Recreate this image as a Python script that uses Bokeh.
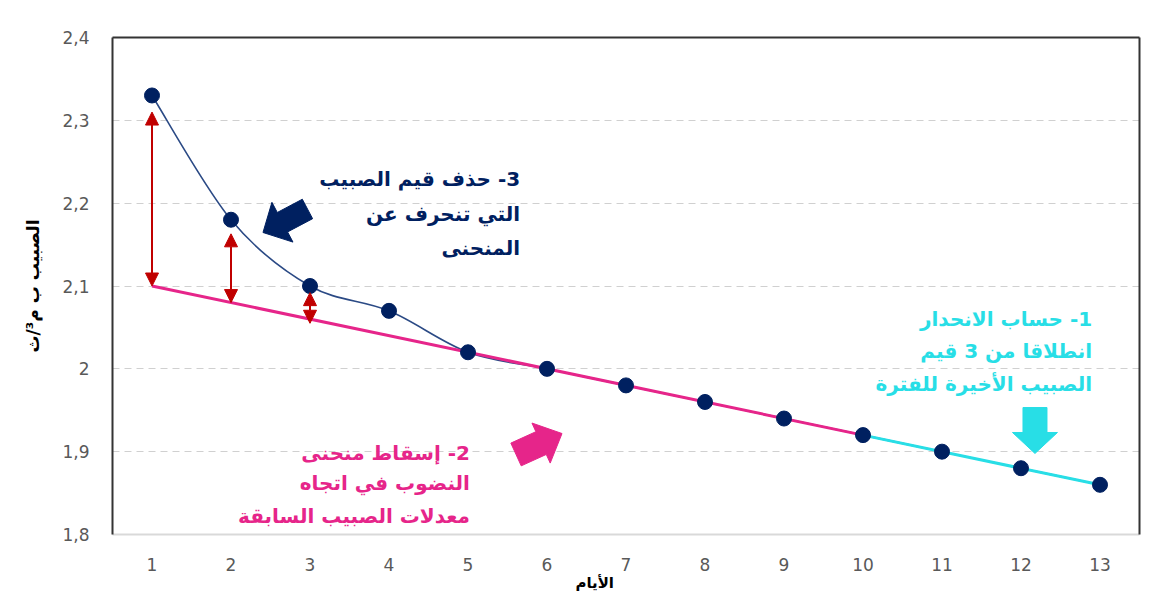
import math
from bokeh.plotting import figure
from bokeh.models import (FixedTicker, Arrow, NormalHead, ColumnDataSource,
                          LinearAxis, Range1d)
from bokeh.core.properties import value
from bokeh.embed import file_html
from bokeh.resources import INLINE

# ---------------- data ----------------
days = list(range(1, 14))
flow = [2.33, 2.18, 2.10, 2.07, 2.02, 2.00, 1.98, 1.96, 1.94, 1.92, 1.90, 1.88, 1.86]

recession_x = [1, 10]
recession_y = [2.10, 1.92]
regression_x = [10, 13]
regression_y = [1.92, 1.86]

dev_x = [1, 2, 3]
dev_low = [2.10, 2.08, 2.055]
dev_high = [2.31, 2.163, 2.092]

x_ticks = days
y_ticks = [1.8, 1.9, 2.0, 2.1, 2.2, 2.3, 2.4]
y_tick_labels = ["1,8", "1,9", "2", "2,1", "2,2", "2,3", "2,4"]
x_title = "الأيام"
y_title = "الصبيب ب م³/ث"

note3 = ["3- حذف قيم الصبيب", "التي تنحرف عن", "المنحنى"]
note2 = ["2- إسقاط منحنى", "النضوب في اتجاه", "معدلات الصبيب السابقة"]
note1 = ["1- حساب الانحدار", "انطلاقا من 3 قيم", "الصبيب الأخيرة للفترة"]

note3_x, note3_y = 5.66, [2.2297, 2.1874, 2.1464]
note2_x, note2_y = 5.025, [1.8988, 1.8626, 1.8227]
note1_x, note1_y = 12.9, [2.0606, 2.022, 1.982]

navy_arrow = ((2.968, 2.193), (2.405, 2.1646))
pink_arrow = ((5.608, 1.8966), (6.19, 1.9219))
cyan_arrow = ((12.177, 1.9533), (12.177, 1.8978))

NAVY = "#002060"
CURVE = "#2B4A85"
PINK = "#E6258A"
CYAN = "#28DEE6"
RED = "#C00000"
TICK = "#595959"
FONT = "DejaVu Sans"

X0, X1 = 0.5, 13.5
Y0, Y1 = 1.8, 2.4
W, H = 1142, 597
PAD_L, PAD_T, PAD_R, PAD_B = 112, 37, 3, 63
FW, FH = W - PAD_L - PAD_R, H - PAD_T - PAD_B
kx = FW / (X1 - X0)
ky = FH / (Y1 - Y0)

p = figure(width=W, height=H, output_backend="svg", toolbar_location=None,
           x_range=Range1d(X0, X1), y_range=Range1d(Y0, Y1),
           min_border_left=PAD_L, min_border_top=PAD_T,
           min_border_right=PAD_R, min_border_bottom=PAD_B)
p.outline_line_color = None
p.background_fill_color = "white"
p.border_fill_color = "white"

# grid
p.xgrid.visible = False
p.ygrid.ticker = FixedTicker(ticks=y_ticks)
p.ygrid.grid_line_color = "#D0D0D0"
p.ygrid.grid_line_dash = "7 5"
p.ygrid.grid_line_width = 1

# axes
p.xaxis.ticker = FixedTicker(ticks=x_ticks)
p.yaxis.ticker = FixedTicker(ticks=y_ticks)
p.yaxis.major_label_overrides = {t: l for t, l in zip(y_ticks, y_tick_labels)}
for ax in (p.xaxis[0], p.yaxis[0]):
    ax.major_tick_line_color = None
    ax.minor_tick_line_color = None
    ax.major_label_text_color = TICK
    ax.major_label_text_font = FONT
    ax.major_label_text_font_size = "17px"
    ax.axis_label_text_font = FONT
    ax.axis_label_text_font_style = "bold"
    ax.axis_label_text_color = "black"
p.xaxis.major_label_standoff = 17
p.yaxis.major_label_standoff = 17
p.xaxis.axis_line_color = "#D9D9D9"
p.xaxis.axis_line_width = 2
p.yaxis.axis_line_color = "#333333"
p.yaxis.axis_line_width = 2
p.yaxis.axis_label = y_title
p.yaxis.axis_label_text_font_size = "17px"
p.yaxis.axis_label_standoff = 16
# trailing figure spaces move the centred day title slightly left, as in the original
p.xaxis.axis_label = x_title + "\u2007" * 6
p.xaxis.axis_label_text_font_size = "15px"
p.xaxis.axis_label_standoff = 0


def bare_axis(**kw):
    return LinearAxis(ticker=FixedTicker(ticks=[]), axis_line_color="#333333", axis_line_width=2,
                      major_tick_line_color=None, minor_tick_line_color=None, **kw)


# top and right edges of the plot frame
p.add_layout(bare_axis(), "above")
p.add_layout(bare_axis(), "right")

# outer chart border (top and left edges), 8px inside the canvas corner
bx = X0 - (PAD_L - 9) / kx
by = Y1 + (PAD_T - 9) / ky
top_a = Y1 + (PAD_T - 8) / ky
bot_b = Y0 - (PAD_B + 2) / ky
left_a = X0 - (PAD_L - 8) / kx
right_b = X1 + (PAD_R + 2) / kx
ys_span = (Y1 - Y0) * 0.999
xs_span = (X1 - X0) * 0.999
for bounds in ((top_a - ys_span, top_a), (bot_b, bot_b + ys_span)):
    p.add_layout(bare_axis(fixed_location=bx, bounds=bounds), "left")
for bounds in ((left_a, left_a + xs_span), (right_b - xs_span, right_b)):
    p.add_layout(bare_axis(fixed_location=by, bounds=bounds), "above")

# smooth curve through measured points (Catmull-Rom -> cubic Bezier)
n = len(days)
bx0, by0, bx1, by1, cx0, cy0, cx1, cy1 = ([] for _ in range(8))
for i in range(n - 1):
    a, b = max(i - 1, 0), min(i + 2, n - 1)
    bx0.append(days[i]); by0.append(flow[i])
    bx1.append(days[i + 1]); by1.append(flow[i + 1])
    cx0.append(days[i] + (days[i + 1] - days[a]) / 6)
    cy0.append(flow[i] + (flow[i + 1] - flow[a]) / 6)
    cx1.append(days[i + 1] - (days[b] - days[i]) / 6)
    cy1.append(flow[i + 1] - (flow[b] - flow[i]) / 6)
p.bezier(x0=bx0, y0=by0, x1=bx1, y1=by1, cx0=cx0, cy0=cy0, cx1=cx1, cy1=cy1,
         line_color=CURVE, line_width=1.6)

p.line(recession_x, recession_y, line_color=PINK, line_width=3)
p.line(regression_x, regression_y, line_color=CYAN, line_width=3)

p.scatter(days, flow, size=15, fill_color=NAVY, line_color=NAVY)

# red deviation arrows
src = ColumnDataSource(dict(x=dev_x, y0=dev_low, y1=dev_high))
p.add_layout(Arrow(x_start="x", y_start="y0", x_end="x", y_end="y1", source=src,
                   line_color=RED, line_width=2,
                   start=NormalHead(size=13, fill_color=RED, line_color=RED),
                   end=NormalHead(size=13, fill_color=RED, line_color=RED)))


def block_arrow(tail, tip, shaft_w, head_w, head_len, color):
    tx, ty = tail[0] * kx, tail[1] * ky
    hx, hy = tip[0] * kx, tip[1] * ky
    dx, dy = hx - tx, hy - ty
    L = math.hypot(dx, dy)
    ux, uy = dx / L, dy / L
    nx, ny = -uy, ux
    ex, ey = hx - ux * head_len, hy - uy * head_len
    pts = [(tx + nx * shaft_w / 2, ty + ny * shaft_w / 2),
           (ex + nx * shaft_w / 2, ey + ny * shaft_w / 2),
           (ex + nx * head_w / 2, ey + ny * head_w / 2),
           (hx, hy),
           (ex - nx * head_w / 2, ey - ny * head_w / 2),
           (ex - nx * shaft_w / 2, ey - ny * shaft_w / 2),
           (tx - nx * shaft_w / 2, ty - ny * shaft_w / 2)]
    p.patch([q[0] / kx for q in pts], [q[1] / ky for q in pts],
            fill_color=color, line_color=color, line_width=1)


block_arrow(*navy_arrow, 22, 45, 22, NAVY)
block_arrow(*pink_arrow, 25, 44, 23, PINK)
block_arrow(*cyan_arrow, 24, 45, 21, CYAN)

# notes
RLM = "\u200f"
for lines, nx_, ys, col in ((note3, note3_x, note3_y, NAVY),
                            (note2, note2_x, note2_y, PINK),
                            (note1, note1_x, note1_y, CYAN)):
    p.text(x=[nx_] * len(lines), y=ys, text=[RLM + t for t in lines],
           text_font=value(FONT), text_font_style="bold", text_font_size="20px",
           text_color=col, text_align="right", text_baseline="middle")

open("out.html", "w").write(file_html(p, INLINE))
